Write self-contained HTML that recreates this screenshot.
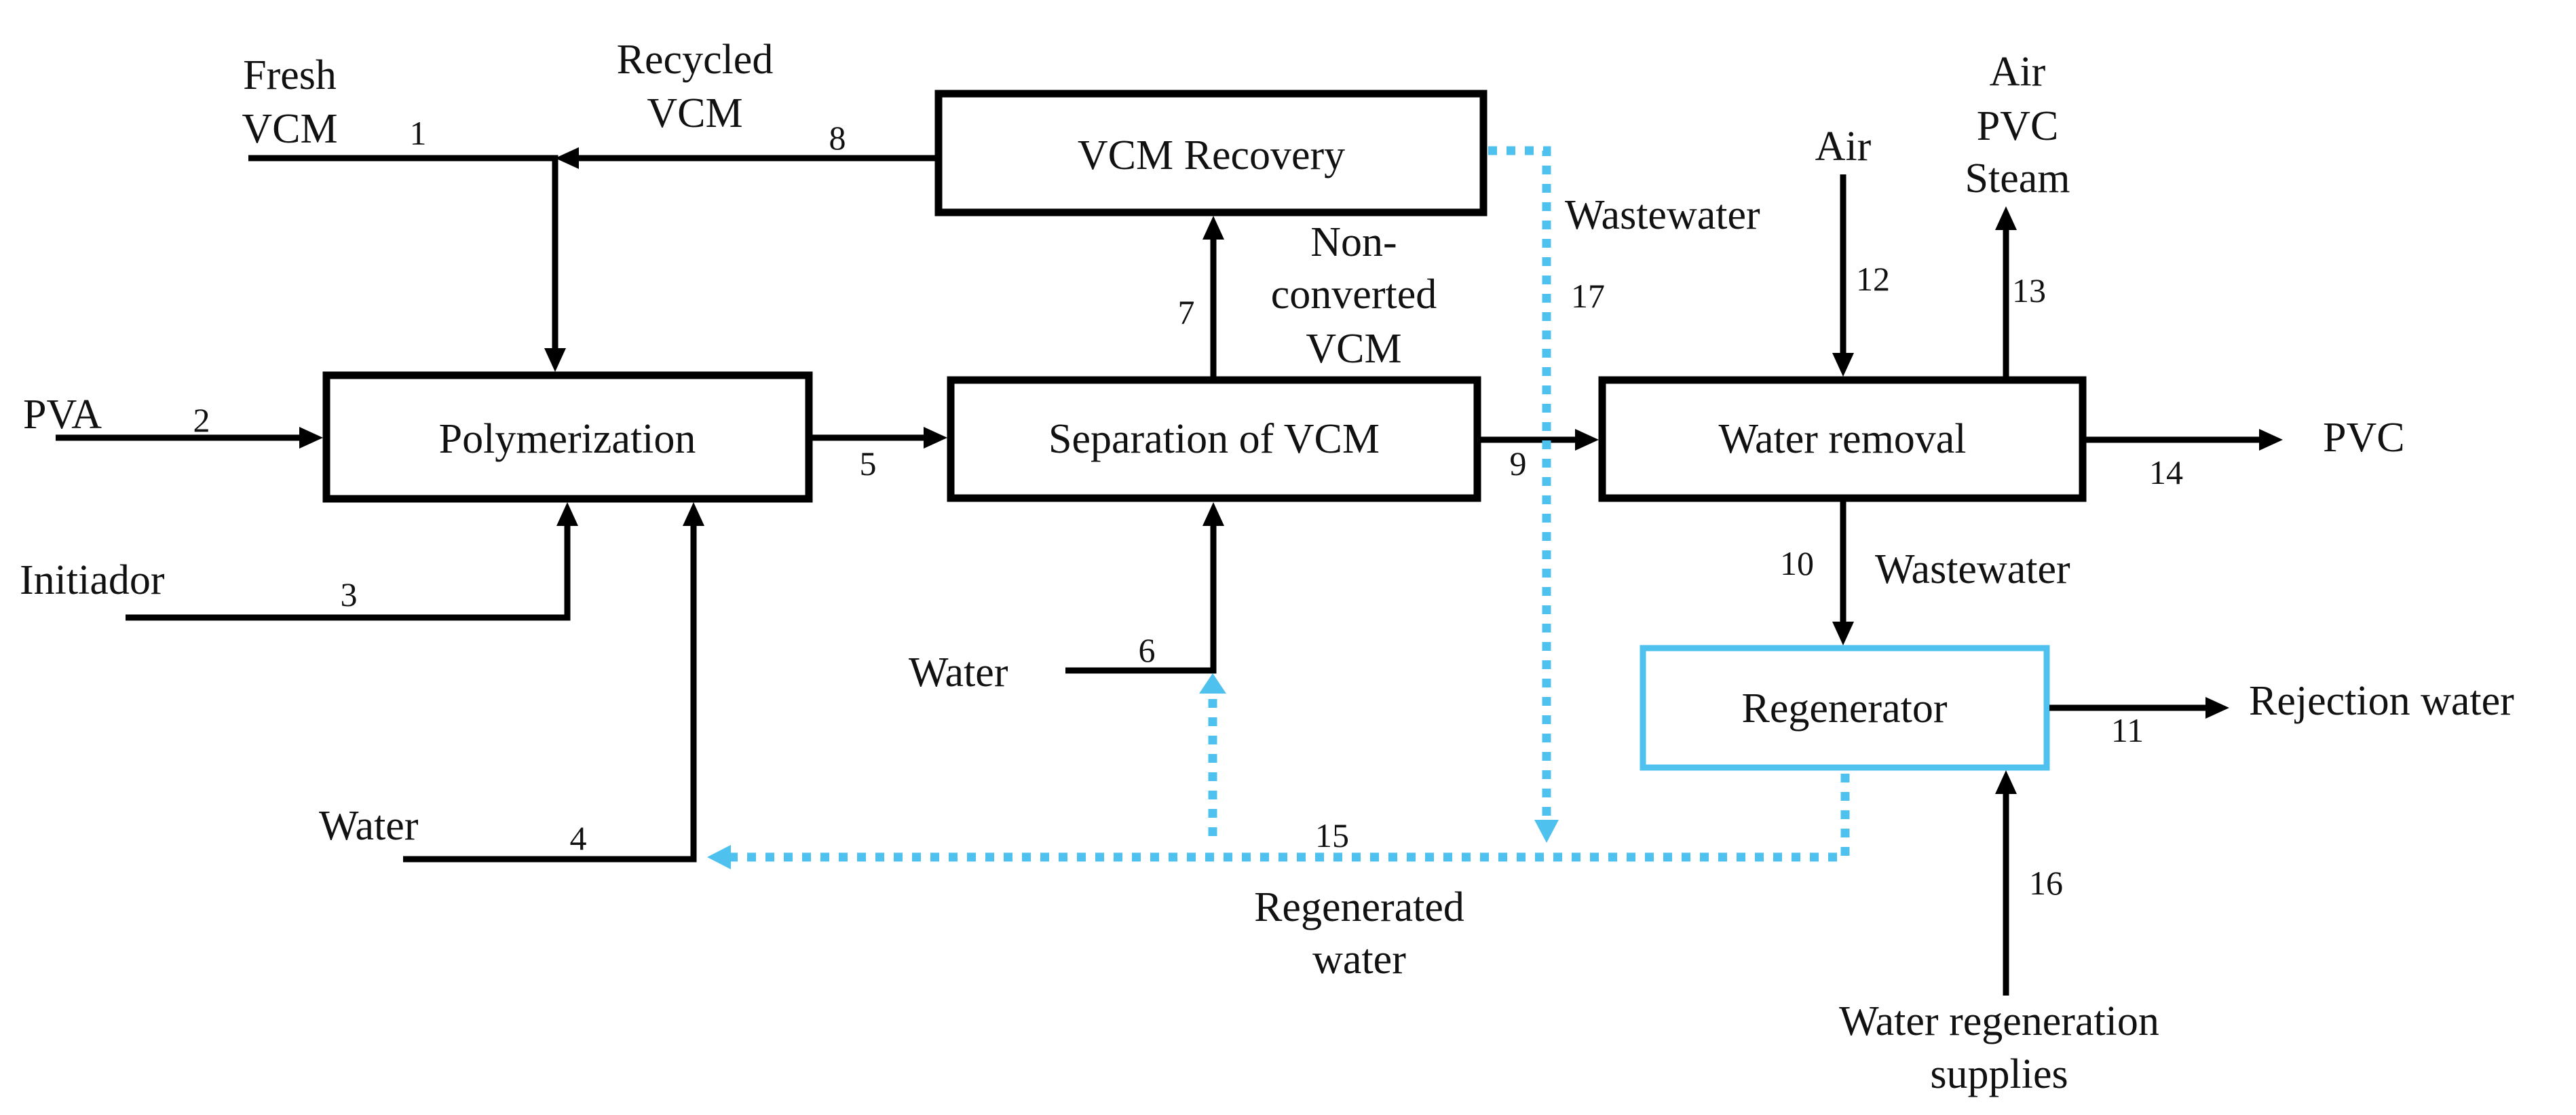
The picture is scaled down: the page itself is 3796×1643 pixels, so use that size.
<!DOCTYPE html>
<html><head><meta charset="utf-8"><style>
html,body{margin:0;padding:0;background:#fff;}
svg{display:block;}
text{font-family:"Liberation Serif","DejaVu Serif",serif;fill:#111;}
.t{font-size:62px;}
.n{font-size:50px;}
</style></head><body>
<svg width="3796" height="1643" viewBox="0 0 3796 1643" xmlns="http://www.w3.org/2000/svg" font-family="Liberation Serif, serif">
<g fill="none" stroke="#000" stroke-width="11">
<rect x="481" y="553" width="711" height="182"/>
<rect x="1401" y="560" width="776" height="174"/>
<rect x="1383" y="138" width="803" height="175"/>
<rect x="2361" y="560" width="708" height="174"/>
</g>
<rect x="2421" y="955" width="595" height="176" fill="none" stroke="#4fc1ef" stroke-width="9"/>
<g stroke="#000" stroke-width="9" fill="none">
<path d="M366 233 H818 V515"/>
<path d="M1378 233 H850"/>
<path d="M82 645 H445"/>
<path d="M185 910 H836 V775"/>
<path d="M594 1266 H1022 V775"/>
<path d="M1197 645 H1366"/>
<path d="M1788 555 V350"/>
<path d="M1570 988 H1788 V775"/>
<path d="M2182 648 H2326"/>
<path d="M2716 257 V525"/>
<path d="M2956 555 V338"/>
<path d="M3074 648 H3330"/>
<path d="M2716 738 V920"/>
<path d="M3020 1043 H3252"/>
<path d="M2956 1467 V1168"/>
</g>
<g fill="#000">
<polygon points="818,548 802,513 834,513"/>
<polygon points="818,233 853,217 853,249"/>
<polygon points="476,645 441,629 441,661"/>
<polygon points="836,740 820,775 852,775"/>
<polygon points="1022,740 1006,775 1038,775"/>
<polygon points="1396,645 1361,629 1361,661"/>
<polygon points="1788,318 1772,353 1804,353"/>
<polygon points="1788,740 1772,775 1804,775"/>
<polygon points="2356,648 2321,632 2321,664"/>
<polygon points="2716,555 2700,520 2732,520"/>
<polygon points="2956,304 2940,339 2972,339"/>
<polygon points="3364,648 3329,632 3329,664"/>
<polygon points="2716,951 2700,916 2732,916"/>
<polygon points="3285,1043 3250,1027 3250,1059"/>
<polygon points="2956,1135 2940,1170 2972,1170"/>
</g>
<g stroke="#4fc1ef" stroke-width="13" fill="none" stroke-dasharray="13 14">
<path d="M1787 1232 V1025"/>
<path d="M2719 1140 V1263 H1075"/>
<path d="M2193 222 H2279 V1210"/>
</g>
<g fill="#4fc1ef">
<polygon points="1787,992 1767,1022 1807,1022"/>
<polygon points="1042,1263 1077,1245 1077,1281"/>
<polygon points="2279,1242 2261,1208 2297,1208"/>
</g>
<g class="t" font-family="Liberation Serif, serif" font-size="62">
<text x="427" y="131" text-anchor="middle">Fresh</text>
<text x="427" y="210" text-anchor="middle">VCM</text>
<text x="1024" y="108" text-anchor="middle">Recycled</text>
<text x="1024" y="187" text-anchor="middle">VCM</text>
<text x="1785" y="249" text-anchor="middle">VCM Recovery</text>
<text x="34" y="631">PVA</text>
<text x="836" y="667" text-anchor="middle">Polymerization</text>
<text x="29" y="875">Initiador</text>
<text x="470" y="1237">Water</text>
<text x="1789" y="667" text-anchor="middle">Separation of VCM</text>
<text x="1995" y="377" text-anchor="middle">Non-</text>
<text x="1995" y="454" text-anchor="middle">converted</text>
<text x="1995" y="534" text-anchor="middle">VCM</text>
<text x="1339" y="1011">Water</text>
<text x="2003" y="1357" text-anchor="middle">Regenerated</text>
<text x="2003" y="1434" text-anchor="middle">water</text>
<text x="2306" y="337">Wastewater</text>
<text x="2716" y="236" text-anchor="middle">Air</text>
<text x="2973" y="126" text-anchor="middle">Air</text>
<text x="2973" y="206" text-anchor="middle">PVC</text>
<text x="2973" y="283" text-anchor="middle">Steam</text>
<text x="2715" y="667" text-anchor="middle">Water removal</text>
<text x="3423" y="665">PVC</text>
<text x="2763" y="859">Wastewater</text>
<text x="2718" y="1064" text-anchor="middle">Regenerator</text>
<text x="3314" y="1053">Rejection water</text>
<text x="2946" y="1525" text-anchor="middle">Water regeneration</text>
<text x="2946" y="1603" text-anchor="middle">supplies</text>
</g>
<g class="n" text-anchor="middle" font-family="Liberation Serif, serif" font-size="50">
<text x="616" y="213">1</text>
<text x="1234" y="220">8</text>
<text x="297" y="636">2</text>
<text x="514" y="893">3</text>
<text x="852" y="1252">4</text>
<text x="1279" y="700">5</text>
<text x="1748" y="477">7</text>
<text x="1690" y="975">6</text>
<text x="1963" y="1248">15</text>
<text x="2340" y="453">17</text>
<text x="2237" y="700">9</text>
<text x="2760" y="428">12</text>
<text x="2990" y="445">13</text>
<text x="3192" y="713">14</text>
<text x="2648" y="847">10</text>
<text x="3135" y="1093">11</text>
<text x="3015" y="1318">16</text>
</g>
</svg>
</body></html>
